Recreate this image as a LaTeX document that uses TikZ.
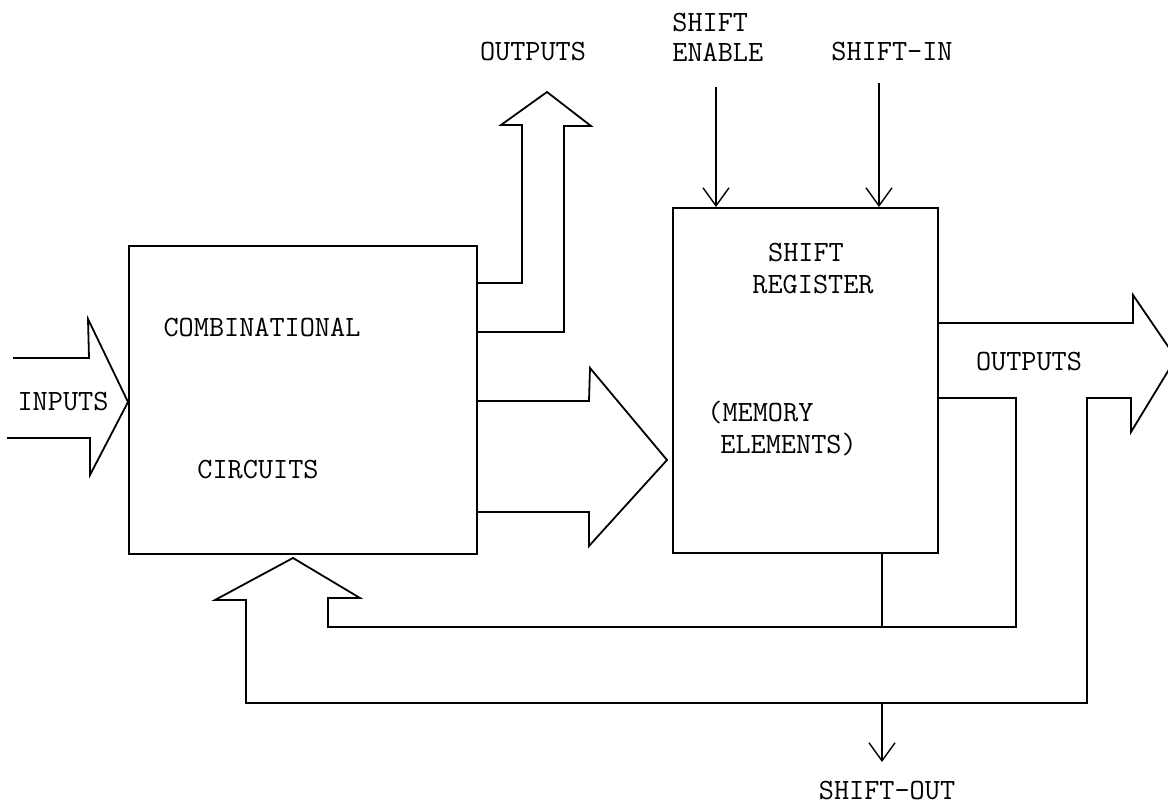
\documentclass[tikz,border=0pt]{standalone}
\usetikzlibrary{arrows.meta}
\begin{document}
\begin{tikzpicture}[x=0.5pt,y=-0.5pt,
  ln/.style={line width=0.9pt,line join=miter,line cap=butt},
  thin/.style={line width=0.7pt},
  box/.style={draw,line width=0.9pt,inner sep=0pt,anchor=north west},
  lbl/.style={font=\fontsize{14.7}{17}\ttfamily,inner sep=0pt},
  vtip/.style={-{Straight Barb[length=9pt,width=13pt,line width=0.7pt]}}]
\useasboundingbox (0,0) rectangle (1168,807);
% boxes
\node[box,minimum width=174pt,minimum height=154pt] (comb) at (128,245) {};
\node[box,minimum width=132.5pt,minimum height=172.5pt] (sr) at (672,207) {};
% labels
\node[lbl] (tcomb) at (262,327) {COMBINATIONAL};
\node[lbl] (tcirc) at (258,470) {CIRCUITS};
\node[lbl] (tshift) at (806,253) {SHIFT};
\node[lbl] (treg) at (813,285) {REGISTER};
\node[lbl,anchor=west] (tmem) at (707,413) {(MEMORY};
\node[lbl,anchor=west] (telem) at (720,445) {ELEMENTS)};
\node[lbl] (tin) at (63,402) {INPUTS};
\node[lbl] (tout1) at (533,52) {OUTPUTS};
\node[lbl] (tout2) at (1029,362) {OUTPUTS};
\node[lbl,anchor=west] (tse1) at (672,23) {SHIFT};
\node[lbl,anchor=west] (tse2) at (672,52) {ENABLE};
\node[lbl] (tsi) at (892,52) {SHIFT-IN};
\node[lbl] (tso) at (887,791) {SHIFT-OUT};
% inputs fat arrow
\coordinate (inTip) at (comb.west |- 0,402);
\draw[ln] (13,358) -- (89,358) -- (88,319) -- (inTip) -- (90,475) -- (90,438) -- (7,438);
% top outputs fat arrow
\draw[ln] (comb.east |- 0,283) -- (522,283) -- (522,125) -- (501,125) -- (547,92) -- (591,126) -- (564,126) -- (564,332) -- (comb.east |- 0,332);
% middle fat arrow comb -> sr
\coordinate (midTip) at (667,460);
\draw[ln] (comb.east |- 0,401) -- (589,401) -- (590,368) -- (midTip) -- (589,546) -- (589,512) -- (comb.east |- 0,512);
% right outputs fat arrow and feedback paths
\draw[ln] (sr.east |- 0,323) -- (1133,323) -- (1133,295) -- (1176,358) -- (1131,432) -- (1131,398) -- (1087,398) -- (1087,703) -- (246,703) -- (246,600) -- (215,600) -- (293,558) -- (360,598) -- (328,598) -- (328,627) -- (1016,627) -- (1016,398) -- (sr.east |- 0,398);
% sr bottom tap
\coordinate (tapTop) at (882,0 |- sr.south);
\draw[ln] (tapTop) -- (882,627);
% shift-out
\coordinate (soStart) at (882,703);
\draw[thin,vtip] (soStart) -- (882,762);
% shift enable / shift-in
\coordinate (seStart) at (716,87);
\coordinate (siStart) at (879,83);
\draw[thin,vtip] (seStart) -- (seStart |- sr.north);
\draw[thin,vtip] (siStart) -- (siStart |- sr.north);
\end{tikzpicture}
\end{document}
